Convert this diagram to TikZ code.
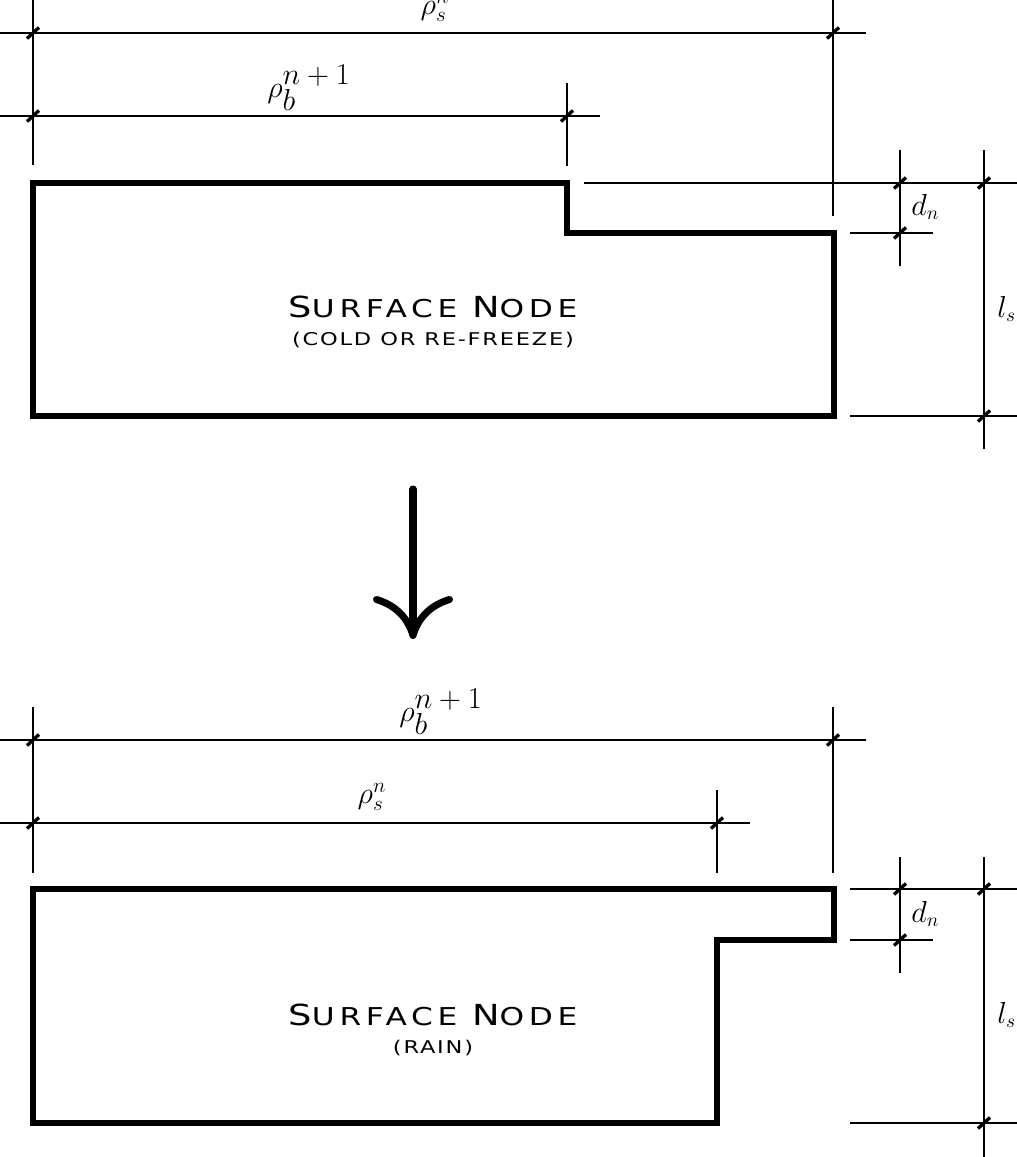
\documentclass[tikz,border=0pt]{standalone}
\usepackage{fontspec}
\usepackage{tikz}
\usetikzlibrary{positioning,arrows.meta}
\newfontfamily\sketchfont{DejaVu Sans}
% small caps by hand: larger first letter
\newcommand{\capword}[2]{{\fontsize{16.5}{18}\selectfont #1}#2}
% density label with full size scripts
\newcommand{\rhobulk}{$\rho_{\textstyle b}^{\textstyle n+1}$}

\begin{document}
\begin{tikzpicture}[
    x=0.02cm,y=-0.02cm,
    outline/.style={line width=3.7pt,line join=miter},
    guide/.style={line width=1.6pt},
    tickmark/.style={line width=1.9pt},
    flowarrow/.style={line width=4pt,line cap=round,
                      -{Computer Modern Rightarrow[length=8.6mm,width=16mm]}},
    dimlabel/.style={inner sep=0pt,anchor=south,font=\fontsize{16.5}{20}\selectfont},
    sidelabel/.style={inner sep=0pt,anchor=base west,font=\fontsize{16}{19}\selectfont},
    nodetitle/.style={inner sep=0pt,anchor=base,
                      font={\sketchfont\fontsize{14}{16}\selectfont\addfontfeature{LetterSpace=15}}},
    nodesub/.style={inner sep=0pt,anchor=base,
                    font={\sketchfont\fontsize{10}{12}\selectfont\addfontfeature{LetterSpace=8}}},
  ]
    \useasboundingbox (0,0) rectangle (1017,1157);
    \clip (0,0) rectangle (1017,1157);

    % ---- before: cold or re-freeze ----
    \draw[outline] (33,183) -- (567,183) -- (567,233) -- (834,233) -- (834,416) -- (33,416) -- cycle;
    \node[nodetitle] (topname) at (433,317) {\scalebox{1.27}[1]{\capword{S}{URFACE} \capword{N}{ODE}}};
    \node[nodesub]   (topcase) at (433,345) {\scalebox{1.28}[1]{(COLD OR RE-FREEZE)}};

    % dimension lines above
    \draw[guide] (-10,33) -- (866,33);
    \draw[guide] (-10,116) -- (600,116);
    \draw[guide] (33,-10) -- (33,165);
    \draw[guide] (833,-10) -- (833,216);
    \draw[guide] (567,83) -- (567,166);
    \node[dimlabel] (topsn) at (435,22) {$\rho_s^n$};
    \node[dimlabel] (topbn) at (309,111) {\rhobulk};

    % dimension lines right
    \draw[guide] (584,183) -- (1030,183);
    \draw[guide] (850,233) -- (933,233);
    \draw[guide] (850,416) -- (1030,416);
    \draw[guide] (900,150) -- (900,266);
    \draw[guide] (984,150) -- (984,449);
    \node[sidelabel] (topdn) at (911,215) {$d_n$};
    \node[sidelabel] (topls) at (997,317) {$l_s$};

    % ---- transition ----
    \coordinate (flowstart) at (413,489);
    \coordinate (flowend) at (413,639);
    \draw[flowarrow] (flowstart) -- (flowend);

    % ---- after: rain ----
    \draw[outline] (33,889) -- (834,889) -- (834,940) -- (717,940) -- (717,1123) -- (33,1123) -- cycle;
    \node[nodetitle] (botname) at (433,1025) {\scalebox{1.27}[1]{\capword{S}{URFACE} \capword{N}{ODE}}};
    \node[nodesub]   (botcase) at (433,1053) {\scalebox{1.28}[1]{(RAIN)}};

    % dimension lines above
    \draw[guide] (-10,740) -- (866,740);
    \draw[guide] (-10,823) -- (750,823);
    \draw[guide] (33,707) -- (33,873);
    \draw[guide] (833,707) -- (833,873);
    \draw[guide] (717,790) -- (717,873);
    \node[dimlabel] (botbn) at (441,735) {\rhobulk};
    \node[dimlabel] (botsn) at (372,811) {$\rho_s^n$};

    % dimension lines right
    \draw[guide] (850,889) -- (1030,889);
    \draw[guide] (850,940) -- (933,940);
    \draw[guide] (850,1123) -- (1030,1123);
    \draw[guide] (900,857) -- (900,973);
    \draw[guide] (984,857) -- (984,1170);
    \node[sidelabel] (botdn) at (911,922) {$d_n$};
    \node[sidelabel] (botls) at (997,1023) {$l_s$};

    % ticks where dimensions meet
    \foreach \x/\y in {33/33,833/33,33/116,567/116,900/183,984/183,900/233,984/416,
                       33/740,833/740,33/823,717/823,900/889,984/889,900/940,984/1123}
      \draw[tickmark] (\x,\y) +(-6,5.5) -- +(6,-5.5);
\end{tikzpicture}
\end{document}
